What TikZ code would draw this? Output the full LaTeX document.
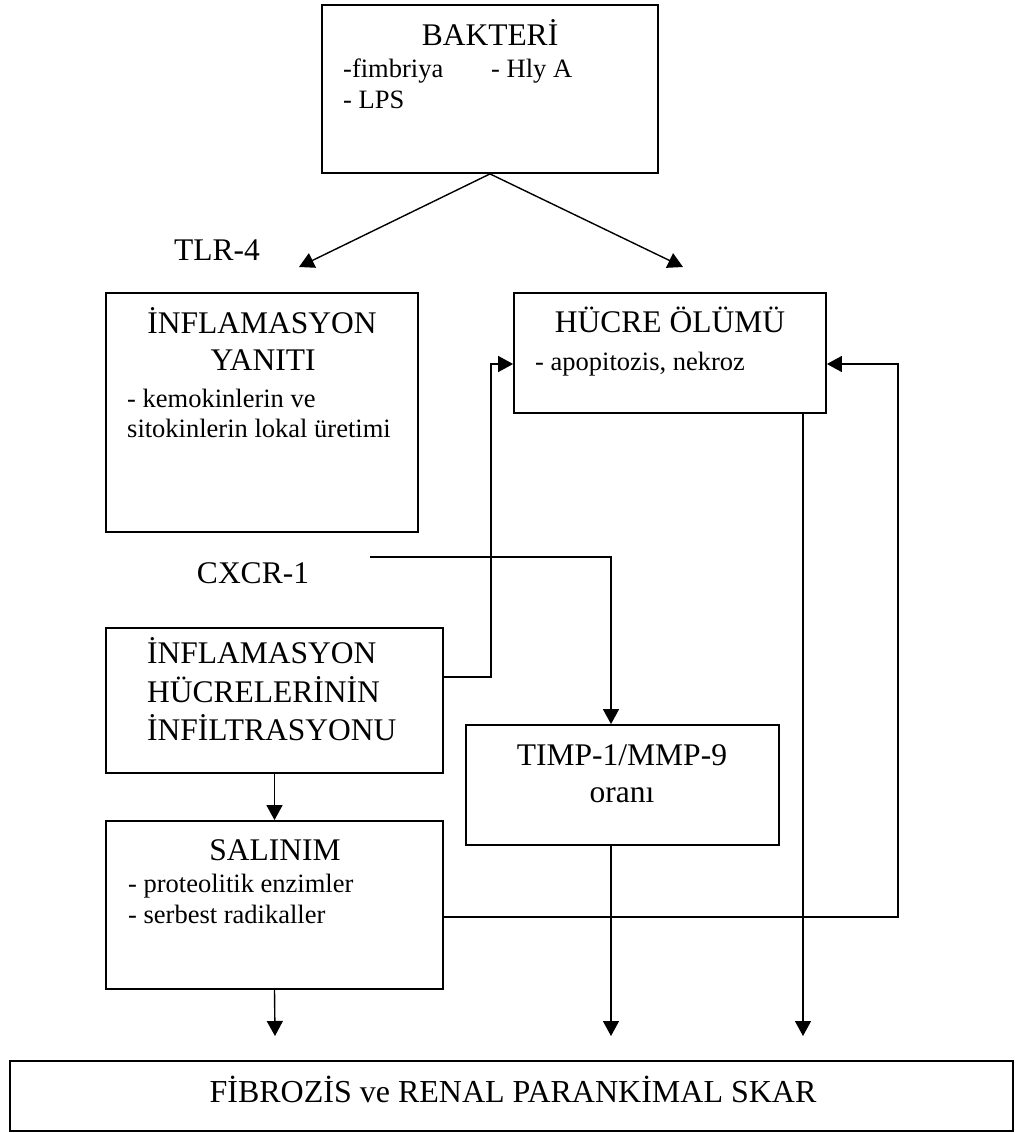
\documentclass[tikz,border=0pt]{standalone}
\usepackage{fontspec}
\setmainfont{Liberation Serif}
\usetikzlibrary{arrows.meta}
\begin{document}
\begin{tikzpicture}[x=1pt,y=-1pt,
  box/.style={draw, line width=1.8pt, inner sep=0pt, rectangle},
  arr/.style={line width=1.4pt, -{Triangle[length=15pt,width=16pt]}},
  big/.style={font=\fontsize{31.5}{37}\selectfont, inner sep=0pt},
  small/.style={font=\fontsize{26.5}{31}\selectfont, inner sep=0pt}]
\useasboundingbox (0,0) rectangle (1023,1133);

% boxes
\node[box, minimum width=336pt, minimum height=168pt] (bak) at (490,89) {};
\node[box, minimum width=312pt, minimum height=239pt] (inflam) at (262,412.5) {};
\node[box, minimum width=312pt, minimum height=120pt] (hucre) at (670,353) {};
\node[box, minimum width=337pt, minimum height=145pt] (infil) at (274.5,700.5) {};
\node[box, minimum width=313pt, minimum height=120pt] (timp) at (622.5,785) {};
\node[box, minimum width=337pt, minimum height=168pt] (salinim) at (274.5,905) {};
\node[box, minimum width=1003pt, minimum height=70pt] (fib) at (511.5,1096) {};

% texts
\node[big, anchor=base] (bakT) at (490,45) {BAKTERİ};
\node[small, anchor=base west] (bak1) at (343,77) {-fimbriya};
\node[small, anchor=base west] (bak2) at (491,77) {- Hly A};
\node[small, anchor=base west] (bak3) at (343,108) {- LPS};
\node[big, anchor=base] (tlr) at (217,260) {TLR-4};
\node[big, anchor=base] (inflamT1) at (262,333) {İNFLAMASYON};
\node[big, anchor=base] (inflamT2) at (263,370) {YANITI};
\node[small, anchor=base west] (inflam1) at (127,407) {- kemokinlerin ve};
\node[small, anchor=base west] (inflam2) at (127,437) {sitokinlerin lokal üretimi};
\node[big, anchor=base] (hucreT) at (670,332) {HÜCRE ÖLÜMÜ};
\node[small, anchor=base west] (hucre1) at (535,370) {- apopitozis, nekroz};
\node[big, anchor=base] (cxcr) at (253,583) {CXCR-1};
\node[big, anchor=base west] (infilT1) at (147,663) {İNFLAMASYON};
\node[big, anchor=base west] (infilT2) at (147,702) {HÜCRELERİNİN};
\node[big, anchor=base west] (infilT3) at (147,740) {İNFİLTRASYONU};
\node[big, anchor=base] (timpT1) at (622,765) {TIMP-1/MMP-9};
\node[big, anchor=base] (timpT2) at (622,802) {oranı};
\node[big, anchor=base] (salT) at (275,860) {SALINIM};
\node[small, anchor=base west] (sal1) at (128,892) {- proteolitik enzimler};
\node[small, anchor=base west] (sal2) at (128,923) {- serbest radikaller};
\node[font=\fontsize{32}{38}\selectfont, inner sep=0pt, anchor=base] (fibT) at (513,1102) {FİBROZİS ve RENAL PARANKİMAL SKAR};

% helper coordinates
\coordinate (tlrTip) at (299,267);
\coordinate (hucTip) at (683,267);
\coordinate (yInf) at (0,677);
\coordinate (yHu) at (0,364);
\coordinate (cxStart) at (370,557);
\coordinate (cxCorner) at (611,557);
\coordinate (e1) at (275,1036);
\coordinate (e2) at (611,1036);
\coordinate (e3) at (803,1036);
\coordinate (ySal) at (0,917);

% connectors
\draw[arr] (bak.south) -- (tlrTip);
\draw[arr] (bak.south) -- (hucTip);
\draw[arr] (infil.east |- yInf) -- (491,677) -- (491,364) -- (hucre.west |- yHu);
\draw[arr] (cxStart) -- (cxCorner) -- (cxCorner |- timp.north);
\draw[arr] (infil.south) -- (salinim.north);
\draw[arr] (salinim.south) -- (e1);
\draw[arr] (e2 |- timp.south) -- (e2);
\draw[arr] (e3 |- hucre.south) -- (e3);
\draw[arr] (salinim.east |- ySal) -- (898,917) -- (898,364) -- (hucre.east |- yHu);
\end{tikzpicture}
\end{document}
